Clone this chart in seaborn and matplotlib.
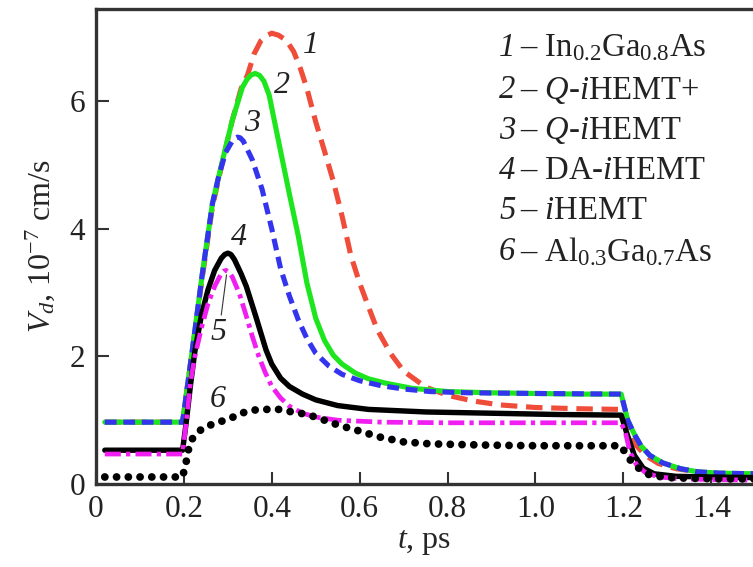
import matplotlib
matplotlib.use("Agg")
import matplotlib.pyplot as plt
import seaborn as sns

# curve 1 - In0.2Ga0.8As
t1 = [0.02, 0.197, 0.22, 0.24, 0.265, 0.29, 0.31, 0.33, 0.345, 0.36, 0.375, 0.39, 0.40, 0.415,
      0.433, 0.45, 0.465, 0.48, 0.50, 0.52, 0.54, 0.56, 0.58, 0.60, 0.62, 0.64, 0.67, 0.70,
      0.75, 0.80, 0.86, 0.92, 1.00, 1.10, 1.195, 1.21, 1.23, 1.25, 1.28, 1.32, 1.38, 1.45, 1.50]
v1 = [0.97, 0.97, 2.14, 3.15, 4.35, 5.12, 5.7, 6.2, 6.42, 6.75, 6.95, 7.04, 7.07, 7.04,
      6.96, 6.78, 6.52, 6.2, 5.68, 5.22, 4.75, 4.2, 3.58, 3.15, 2.78, 2.42, 2.05, 1.77,
      1.52, 1.39, 1.3, 1.24, 1.2, 1.18, 1.17, 0.9, 0.6, 0.45, 0.32, 0.24, 0.18, 0.16, 0.15]

# curve 2 - Q-iHEMT+
t2 = [0.02, 0.197, 0.22, 0.242, 0.265, 0.288, 0.31, 0.333, 0.343, 0.352, 0.362, 0.372, 0.382,
      0.394, 0.42, 0.44, 0.46, 0.48, 0.50, 0.52, 0.54, 0.56, 0.59, 0.62, 0.66, 0.72, 0.80,
      0.90, 1.00, 1.10, 1.195, 1.21, 1.225, 1.24, 1.26, 1.29, 1.33, 1.37, 1.42, 1.50]
v2 = [0.97, 0.97, 2.14, 3.3, 4.4, 5.08, 5.7, 6.22, 6.34, 6.41, 6.44, 6.41, 6.32,
      6.1, 5.22, 4.55, 3.9, 3.15, 2.6, 2.25, 2.02, 1.88, 1.74, 1.65, 1.58, 1.5, 1.45,
      1.43, 1.42, 1.41, 1.41, 1.0, 0.78, 0.6, 0.45, 0.33, 0.24, 0.19, 0.17, 0.16]

# curve 3 - Q-iHEMT
t3 = [0.02, 0.197, 0.22, 0.242, 0.265, 0.28, 0.295, 0.31, 0.316, 0.322, 0.328, 0.335, 0.356,
      0.378, 0.40, 0.42, 0.44, 0.46, 0.48, 0.50, 0.53, 0.56, 0.60, 0.65, 0.70, 0.76, 0.85,
      1.00, 1.195, 1.21, 1.225, 1.24, 1.26, 1.29, 1.33, 1.37, 1.42, 1.50]
v3 = [0.97, 0.97, 2.14, 3.3, 4.4, 4.85, 5.2, 5.38, 5.42, 5.44, 5.43, 5.38, 5.08,
      4.62, 4.0, 3.38, 2.95, 2.58, 2.28, 2.05, 1.85, 1.72, 1.62, 1.54, 1.49, 1.45, 1.43,
      1.42, 1.41, 1.0, 0.78, 0.6, 0.45, 0.33, 0.24, 0.19, 0.17, 0.16]

# curve 4 - DA-iHEMT
t4 = [0.02, 0.197, 0.205, 0.215, 0.225, 0.24, 0.255, 0.27, 0.285, 0.293, 0.30, 0.307, 0.315,
      0.33, 0.342, 0.364, 0.387, 0.40, 0.42, 0.44, 0.47, 0.50, 0.55, 0.62, 0.75, 0.90, 1.05,
      1.195, 1.21, 1.225, 1.245, 1.27, 1.32, 1.40, 1.50]
v4 = [0.53, 0.53, 0.95, 1.55, 2.08, 2.65, 3.05, 3.35, 3.54, 3.6, 3.62, 3.6, 3.52,
      3.3, 3.1, 2.62, 2.1, 1.88, 1.66, 1.53, 1.41, 1.32, 1.23, 1.17, 1.13, 1.11, 1.09,
      1.08, 0.75, 0.45, 0.25, 0.16, 0.12, 0.11, 0.1]

# curve 5 - iHEMT
t5 = [0.02, 0.197, 0.205, 0.215, 0.225, 0.24, 0.255, 0.27, 0.285, 0.291, 0.296, 0.303, 0.31,
      0.326, 0.34, 0.355, 0.37, 0.385, 0.40, 0.42, 0.44, 0.47, 0.50, 0.55, 0.65, 0.80, 1.00,
      1.195, 1.205, 1.215, 1.23, 1.25, 1.28, 1.33, 1.40, 1.50]
v5 = [0.47, 0.47, 0.95, 1.6, 2.0, 2.45, 2.83, 3.1, 3.3, 3.34, 3.35, 3.32, 3.25,
      2.99, 2.68, 2.33, 2.01, 1.75, 1.53, 1.35, 1.22, 1.11, 1.05, 1.0, 0.97, 0.96, 0.96,
      0.96, 0.8, 0.5, 0.3, 0.18, 0.11, 0.08, 0.07, 0.06]

# curve 6 - Al0.3Ga0.7As
t6 = [0.02, 0.197, 0.205, 0.21, 0.22, 0.243, 0.274, 0.303, 0.33, 0.36, 0.387, 0.417, 0.446,
      0.473, 0.50, 0.553, 0.59, 0.643, 0.70, 0.76, 0.82, 0.89, 1.00, 1.10, 1.195,
      1.21, 1.23, 1.26, 1.30, 1.36, 1.42, 1.50]
v6 = [0.11, 0.11, 0.34, 0.53, 0.72, 0.88, 0.96, 1.02, 1.11, 1.16, 1.17, 1.17, 1.13,
      1.1, 1.05, 0.92, 0.85, 0.74, 0.66, 0.63, 0.62, 0.61, 0.6, 0.6, 0.6,
      0.42, 0.27, 0.14, 0.1, 0.09, 0.08, 0.08]

legend_nums = ["1", "2", "3", "4", "5", "6"]
legend_labels = [
    r"– In$_{0.2}$Ga$_{0.8}$As",
    r"– $\mathit{Q}$-$\mathit{i}$HEMT+",
    r"– $\mathit{Q}$-$\mathit{i}$HEMT",
    r"– DA-$\mathit{i}$HEMT",
    r"– $\mathit{i}$HEMT",
    r"– Al$_{0.3}$Ga$_{0.7}$As",
]
x_ticks = [0, 0.2, 0.4, 0.6, 0.8, 1.0, 1.2, 1.4]
x_ticklabels = ["0", "0.2", "0.4", "0.6", "0.8", "1.0", "1.2", "1.4"]
y_ticks = [0, 2, 4, 6]

sns.set_theme(style="ticks")
plt.rcParams['font.family'] = ['Liberation Serif', 'DejaVu Serif']
plt.rcParams['mathtext.fontset'] = 'custom'
plt.rcParams['mathtext.rm'] = 'Liberation Serif'
plt.rcParams['mathtext.it'] = 'Liberation Serif:italic'
plt.rcParams['mathtext.bf'] = 'Liberation Serif:bold'
plt.rcParams['text.color'] = '#222222'

fig = plt.figure(figsize=(7.53, 5.67), dpi=100)
ax = fig.add_axes([96 / 753, 83 / 567, 657 / 753, 475 / 567])

sns.lineplot(x=t1, y=v1, ax=ax, color='#f04c3a', linewidth=3.7, linestyle=(0, (3.2, 1.7)), errorbar=None)
sns.lineplot(x=t2, y=v2, ax=ax, color='#1ee61e', linewidth=3.7, errorbar=None)
sns.lineplot(x=t3, y=v3, ax=ax, color='#3434ee', linewidth=3.7, linestyle=(0, (2.3, 1.3)), errorbar=None)
sns.lineplot(x=t4, y=v4, ax=ax, color='black', linewidth=3.9, errorbar=None)
sns.lineplot(x=t5, y=v5, ax=ax, color='#f01ef0', linewidth=3.4, linestyle=(0, (3.4, 1.1, 0.9, 1.1)), errorbar=None)
sns.lineplot(x=t6, y=v6, ax=ax, color='black', linewidth=5.6, linestyle=(0, (0.01, 1.5)),
             dash_capstyle='round', errorbar=None)

# curve numbers
num_t = [0.49, 0.424, 0.356, 0.326, 0.279, 0.276]
num_v = [6.88, 6.25, 5.66, 3.86, 2.37, 1.32]
for s, xt, yv in zip(legend_nums, num_t, num_v):
    ax.text(xt, yv, s, fontsize=23, fontstyle='italic', ha='center', va='center', color='#222222')
ax.plot([0.285, 0.297], [2.65, 3.28], color='#333333', linewidth=0.8)

# legend as text rows
row_y = [48, 90, 131, 171, 211, 252]
for num, lab, yy in zip(legend_nums, legend_labels, row_y):
    fig.text(499 / 753, 1 - yy / 567, num, fontsize=23.5, fontstyle='italic', ha='left', va='center',
             color='#222222')
    fig.text(520 / 753, 1 - yy / 567, lab, fontsize=23.5, ha='left', va='center', color='#222222')

ax.set_xlim(0, 1.495)
ax.set_ylim(0, 7.45)
ax.set_xticks(x_ticks)
ax.set_xticklabels(x_ticklabels)
ax.set_yticks(y_ticks)
ax.tick_params(direction='in', length=9, width=1.5, labelsize=22.5, colors='#333333', labelcolor='#222222', pad=8)
for side in ['left', 'bottom', 'top']:
    ax.spines[side].set_linewidth(2.4)
    ax.spines[side].set_color('#333333')
ax.spines['right'].set_visible(False)
ax.set_xlabel(r"$t$, ps", fontsize=23, labelpad=3)
ax.set_ylabel(r"$V_d$, 10$^{-7}$ cm/s", fontsize=23, labelpad=9)

fig.savefig('out.png', dpi=100)
